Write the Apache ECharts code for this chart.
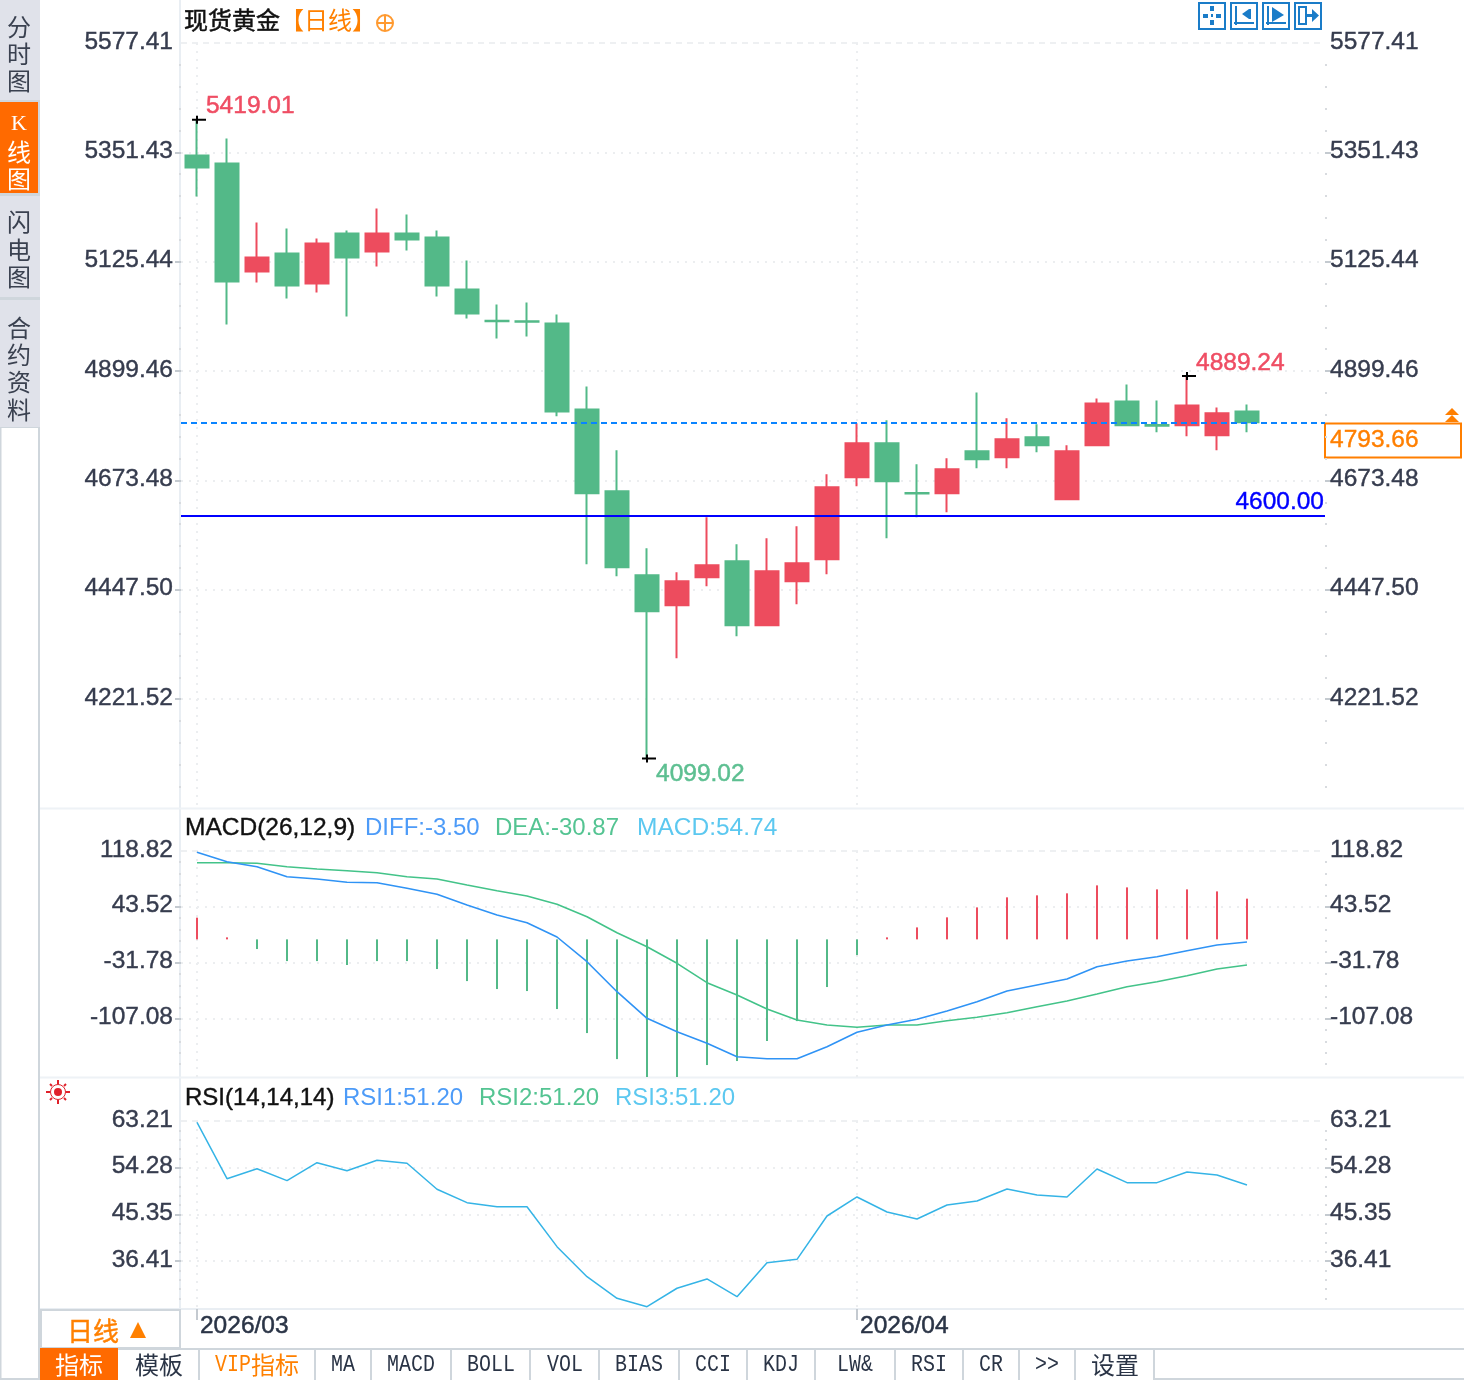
<!DOCTYPE html>
<html>
<head>
<meta charset="utf-8">
<title>现货黄金 日线</title>
<script src="https://cdn.jsdelivr.net/npm/echarts@6/dist/echarts.min.js"></script>
<style>
html, body { margin: 0; padding: 0; background: #fff; }
#kline { width: 1464px; height: 1380px; }
</style>
</head>
<body>
<div id="kline"></div>
<script>
// 日K
var opens  = [5344.77,5328.25,5105.24,5142.42,5080.47,5183.72,5146.54,5183.72,5175.46,5068.09,5003.5,5002.5,4997.88,4820.31,4651.00,4477.55,4415.60,4473.42,4506.46,4374.31,4465.16,4510.58,4679.90,4750.11,4647.4,4646.86,4733.59,4721.19,4762.50,4634.47,4745.97,4836.83,4788.00,4787.27,4766.62,4816.18];
var closes = [5319.98,5084.60,5134.16,5076.34,5163.07,5134.15,5183.72,5171.32,5076.34,5018.52,5002.5,5001.5,4816.17,4646.86,4494.06,4403.21,4465.17,4498.20,4374.31,4485.81,4502.33,4659.26,4750.11,4671.64,4646.4,4696.42,4717.06,4758.37,4745.97,4733.59,4832.70,4787.27,4786.50,4828.57,4812.05,4793.66];
var lows   = [5260.11,4995.81,5082.54,5049.50,5061.89,5012.33,5115.57,5148.61,5053.63,5008.20,4966.91,4971.04,4805.85,4500.26,4475.49,4099.02,4306.17,4454.84,4351.60,4372.25,4417.67,4479.61,4661.32,4553.95,4597.31,4607.63,4698.48,4698.48,4731.52,4632.41,4743.91,4785.21,4772.82,4764.56,4735.65,4772.82];
var highs  = [5419.01,5379.87,5206.42,5194.04,5173.39,5189.91,5235.33,5222.94,5189.91,5127.96,5037.11,5041.24,5016.46,4867.80,4735.65,4533.30,4483.74,4597.31,4541.56,4553.95,4578.73,4686.09,4791.40,4797.59,4706.74,4719.13,4855.41,4801.72,4789.33,4745.97,4843.02,4871.93,4838.89,4889.24,4824.44,4830.63];
var lastPrice = 4793.66;
var alertPrice = 4600.00;

// MACD
var diff = [117.07,104.43,97.71,84.26,81.17,76.73,76.20,68.67,60.60,46.21,32.77,22.41,3.18,-30.03,-70.37,-106.13,-124.15,-139.75,-157.76,-160.45,-160.45,-144.32,-124.96,-115.14,-107.48,-96.32,-83.81,-69.42,-61.36,-53.29,-36.75,-29.09,-23.30,-15.25,-7.57,-3.50];
var dea  = [103.09,103.09,102.28,97.71,94.62,92.33,89.64,84.26,81.17,73.10,65.44,58.31,47.15,30.48,8.97,-9.86,-32.18,-58.26,-74.80,-93.63,-108.42,-115.14,-118.23,-115.14,-115.14,-109.36,-104.79,-98.60,-90.54,-82.87,-73.46,-63.64,-56.92,-48.85,-39.85,-34.46];
var macd = [29.2,2.7,-13.0,-29.2,-29.2,-34.5,-29.2,-29.2,-39.9,-56.1,-66.8,-69.5,-93.7,-126,-161,-190,-190,-169,-163.6,-136.7,-109.9,-64.1,-21.1,2.7,16.1,29.6,43.0,56.5,59.2,61.9,72.6,69.9,67.2,67.2,64.5,54.74];

// RSI
var rsi = [62.96,52.17,54.08,51.79,55.23,53.70,55.69,55.12,50.14,47.58,46.81,46.81,39.16,33.42,29.28,27.67,31.20,32.98,29.59,36.09,36.74,45.03,48.67,45.80,44.46,47.13,47.90,50.20,49.05,48.67,54.03,51.41,51.41,53.44,52.88,50.96];

// 坐标轴刻度
var priceTicks = [5577.41,5351.43,5125.44,4899.46,4673.48,4447.50,4221.52];
var macdTicks = [118.82,43.52,-31.78,-107.08];
var rsiTicks = [63.21,54.28,45.35,36.41];
var dateTickIdx = [0,22];
var dateTickText = ['2026/03','2026/04'];

// 界面文字
var sideTabs = [['分','时','图'],['K','线','图'],['闪','电','图'],['合','约','资','料']];
var bottomTabs = ['指标','模板','VIP指标','MA','MACD','BOLL','VOL','BIAS','CCI','KDJ','LW&','RSI','CR','>>','设置'];

var RED = '#ed4c5e', GREEN = '#53b988', LABEL = '#363c4e', DOT = '#eceef0';
var NUM = '"Liberation Sans", Arial, sans-serif';
var CJK = '"Noto Sans CJK SC", sans-serif';
var MONO = '"Liberation Mono", monospace';

function rect(x, y, w, h, fill) {
    return {type: 'rect', silent: true, shape: {x: x, y: y, width: w, height: h}, style: {fill: fill}};
}
function box(x, y, w, h, stroke, lw) {
    return {type: 'rect', silent: true, shape: {x: x, y: y, width: w, height: h}, style: {fill: 'none', stroke: stroke, lineWidth: lw}};
}
function line(x1, y1, x2, y2, stroke, lw) {
    return {type: 'line', silent: true, shape: {x1: x1, y1: y1, x2: x2, y2: y2}, style: {stroke: stroke, lineWidth: lw}};
}
function poly(pts, fill) {
    return {type: 'polygon', silent: true, shape: {points: pts}, style: {fill: fill}};
}
function txt(x, y, s, fill, font, align, heavy) {
    var st = {text: s, fill: fill, font: font, textAlign: align || 'left', textVerticalAlign: 'middle'};
    if (heavy) { st.stroke = fill; st.lineWidth = heavy; }
    return {type: 'text', silent: true, x: x, y: y, style: st};
}

// 每个窗格左右两条刻度轴，再加小刻度和顶部虚线
function paneAxes(grid, ticks, min, max) {
    var step = (ticks[0] - ticks[1]) / 5, minors = [], v;
    for (v = ticks[0] - step; v > min; v -= step) {
        if (Math.abs((ticks[0] - v) / step % 5) > 0.5 && Math.abs((ticks[0] - v) / step % 5) < 4.5) minors.push(v);
    }
    function base(pos) {
        return {
            type: 'value', gridIndex: grid, position: pos, min: min, max: max, scale: true,
            axisLine: {show: false, onZero: false}, splitLine: {show: false}, axisLabel: {show: false}, axisTick: {show: false}
        };
    }
    var left = base('left'), right = base('right');
    [left, right].forEach(function (a, i) {
        a.axisLabel = {
            show: true, customValues: ticks, color: LABEL, fontFamily: NUM, fontSize: 24.5,
            textBorderColor: LABEL, textBorderWidth: 0.4,
            margin: i ? 5 : 8, verticalAlign: 'bottom', lineHeight: 2.5,
            formatter: function (val) { return val.toFixed(2); }
        };
        a.axisTick = {show: true, customValues: ticks.slice(1), length: 6, lineStyle: {color: '#c4cad0', width: 2}};
    });
    left.splitLine = {show: true, lineStyle: {color: DOT, type: [2, 6], width: 2}};
    var minorL = base('left'), minorR = base('right');
    [minorL, minorR].forEach(function (a) {
        a.axisTick = {show: true, customValues: minors, length: 2, lineStyle: {color: '#d8dbdf', width: 2}};
    });
    var top = base('left');
    top.axisTick = {show: false, customValues: [ticks[0]]};
    top.splitLine = {show: true, lineStyle: {color: '#eef0f2', type: [6, 5], width: 2}};
    return [left, right, minorL, minorR, top];
}

function dateAxis(grid, showText) {
    return {
        type: 'value', gridIndex: grid, min: -0.5333, max: 37.6, position: 'bottom',
        axisLine: {show: false, onZero: false},
        axisTick: {show: showText, customValues: dateTickIdx, length: 11, lineStyle: {color: '#c4cad0', width: 2}},
        splitLine: {show: true, lineStyle: {color: DOT, type: [2, 6], width: 2}},
        axisLabel: {
            show: showText, customValues: dateTickIdx, color: '#2a3446', fontFamily: NUM, fontSize: 24.5,
            textBorderColor: '#2a3446', textBorderWidth: 0.5,
            align: 'left', margin: 5, padding: [0, 0, 0, 3],
            formatter: function (val) { return dateTickText[dateTickIdx.indexOf(val)]; }
        }
    };
}

function withIndex(arr) {
    return arr.map(function (v, i) { return [i, v]; });
}

// 图表以外的界面部分
function chrome() {
    var g = [], i, j;
    var sideTop = [0, 102, 196, 300], sideH = [100, 91, 101, 127];
    var sideY = [[27, 54, 81], [124, 152, 179], [222, 250, 277], [328, 355, 382, 410]];
    g.push(rect(0, 0, 40, 428, '#cfd6dc'));
    for (i = 0; i < sideTabs.length; i++) {
        g.push(rect(0, sideTop[i], i == 1 ? 38 : 40, sideH[i], i == 1 ? '#ff6a00' : '#e0e2ea'));
        for (j = 0; j < sideTabs[i].length; j++) {
            g.push(txt(19, sideY[i][j], sideTabs[i][j], i == 1 ? '#fff' : '#3a4150',
                (sideTabs[i][j] == 'K' ? '22px "Liberation Serif", serif' : '24px ' + CJK), 'center'));
        }
    }
    g.push(rect(0, 428, 1.5, 950, '#cfd6dc'), rect(38, 428, 2, 952, '#cfd6dc'), rect(0, 1378, 40, 2, '#cfd6dc'));

    // 面板分隔线
    g.push(line(180, 0, 180, 1309, '#e9eef3', 2));
    g.push(line(40, 808.5, 1464, 808.5, '#eef2f6', 2), line(40, 1077.5, 1464, 1077.5, '#eef2f6', 2), line(40, 1309, 1464, 1309, '#e9eef3', 2));

    // 标题
    g.push(txt(184, 20, '现货黄金', '#111', '24px ' + CJK, 'left', 0.5));
    g.push(txt(280, 20, '【日线】', '#ff8000', '24px ' + CJK));
    g.push({type: 'circle', silent: true, shape: {cx: 385, cy: 23, r: 8}, style: {fill: 'none', stroke: '#ff9a30', lineWidth: 2}});
    g.push(line(377, 23, 393, 23, '#ff9a30', 2), line(385, 15, 385, 31, '#ff9a30', 2));

    // 右上角按钮
    var bx = [1199, 1231, 1263, 1295], BLUE = '#1a7cc8';
    bx.forEach(function (x) { g.push(box(x, 3, 26, 26, BLUE, 2)); });
    g.push(rect(1210, 6, 4, 5, BLUE), rect(1210, 20, 4, 5, BLUE), rect(1203, 14, 5, 4, BLUE), rect(1216, 14, 5, 4, BLUE), rect(1211, 14, 2, 3, BLUE));
    g.push(line(1236, 6, 1236, 25, BLUE, 2), line(1234, 23, 1254, 23, BLUE, 2), line(1250, 9, 1250, 19, BLUE, 2), poly([[1242, 14], [1249, 9], [1249, 19]], BLUE));
    g.push(line(1268, 6, 1268, 25, BLUE, 2), line(1266, 23, 1286, 23, BLUE, 2), poly([[1272, 7], [1284, 15], [1272, 22]], BLUE));
    g.push(box(1299, 7, 7, 17, BLUE, 2), line(1306, 15.5, 1314, 15.5, BLUE, 3), poly([[1312, 9], [1319, 15.5], [1312, 22]], BLUE));

    // 最新价
    g.push(box(1325, 423.5, 136, 34, '#ff7f00', 2));
    g.push(txt(1330, 440, '4793.66', '#ff7f00', '24.5px ' + NUM, 'left', 0.4));
    g.push(poly([[1452, 408], [1459, 415], [1445, 415]], '#ff7f00'), poly([[1452, 415], [1459, 422], [1445, 422]], '#ff7f00'));

    // 副图标题
    g.push(txt(185, 828, 'MACD(26,12,9)', '#111', '24.5px ' + NUM, 'left', 0.4));
    g.push(txt(365, 828, 'DIFF:-3.50', '#4d9bf8', '24px ' + NUM));
    g.push(txt(495, 828, 'DEA:-30.87', '#54c492', '24px ' + NUM));
    g.push(txt(637, 828, 'MACD:54.74', '#5cc8f0', '24.5px ' + NUM));
    g.push(txt(185, 1098, 'RSI(14,14,14)', '#111', '24px ' + NUM, 'left', 0.4));
    g.push(txt(343, 1098, 'RSI1:51.20', '#4d9bf8', '24px ' + NUM));
    g.push(txt(479, 1098, 'RSI2:51.20', '#54c492', '24px ' + NUM));
    g.push(txt(615, 1098, 'RSI3:51.20', '#5cc8f0', '24px ' + NUM));

    // 红色小太阳
    g.push({type: 'circle', silent: true, shape: {cx: 58, cy: 1092, r: 4}, style: {fill: '#e0202a'}});
    g.push({type: 'circle', silent: true, shape: {cx: 58, cy: 1092, r: 7.5}, style: {fill: 'none', stroke: '#e0202a', lineWidth: 1}});
    g.push(line(46, 1092, 50, 1092, '#e0202a', 2), line(66, 1092, 70, 1092, '#e0202a', 2), line(58, 1080, 58, 1084, '#e0202a', 2), line(58, 1100, 58, 1104, '#e0202a', 2));
    g.push(line(50, 1084, 52, 1086, '#e0202a', 2), line(64, 1098, 66, 1100, '#e0202a', 2), line(66, 1084, 64, 1086, '#e0202a', 2), line(52, 1098, 50, 1100, '#e0202a', 2));

    // 周期按钮和指标栏
    g.push(box(41, 1310, 139, 38, '#cfd6dc', 2));
    g.push(txt(93, 1331, '日线', '#ff8000', '26px ' + CJK, 'center', 0.4));
    g.push(poly([[138, 1322], [146, 1338], [130, 1338]], '#ff8000'));
    g.push(rect(40, 1348, 1424, 2, '#cfd6dc'));
    var edges = [40, 118, 199, 315, 371, 451, 530, 599, 679, 747, 815, 895, 963, 1019, 1075, 1154];
    var centers = [79, 159, 257, 343, 411, 491, 565, 639, 713, 781, 855, 929, 991, 1047, 1115];
    g.push(rect(40, 1348, 78, 32, '#ff6a00'));
    bottomTabs.forEach(function (s, k) {
        var fill = k == 0 ? '#fff' : (k == 2 ? '#ff8000' : '#2a3446');
        var el;
        if (k == 2) {
            el = txt(215, 1365, 'VIP', fill, '24px ' + MONO);
            el.scaleX = 0.83;
            g.push(el, txt(251, 1365, '指标', fill, '24px ' + CJK));
        } else if (/^[A-Z&>]+$/.test(s)) {
            el = txt(centers[k], 1365, s, fill, '24px ' + MONO, 'center');
            el.scaleX = 0.83;
            g.push(el);
        } else {
            g.push(txt(centers[k], 1365, s, fill, '24px ' + CJK, 'center'));
        }
        if (k > 0) g.push(rect(edges[k + 1] - 1, 1350, 2, 30, '#cfd6dc'));
    });
    g.push(rect(1154, 1378, 310, 2, '#cfd6dc'));
    return g;
}

var MAIN_MIN = 3995.54, MACD_MIN = -185.07, RSI_MIN = 27.23;
var yMain = paneAxes(0, priceTicks, MAIN_MIN, priceTicks[0]);
var yMacd = paneAxes(1, macdTicks, MACD_MIN, macdTicks[0]);
var yRsi = paneAxes(2, rsiTicks, RSI_MIN, rsiTicks[0]);

var candles = opens.map(function (o, i) { return [i, o, closes[i], lows[i], highs[i]]; });
var CROSS = 'path://M0 3H14V5H0Z M4 0H6V8H4Z';

var chart = echarts.init(document.getElementById('kline'));
chart.setOption({
    animation: false,
    backgroundColor: '#fff',
    graphic: {elements: chrome()},
    grid: [
        {left: 181, width: 1144, top: 43, height: 765.5},
        {left: 181, width: 1144, top: 851, height: 226},
        {left: 181, width: 1144, top: 1121, height: 188}
    ],
    xAxis: [dateAxis(0, false), dateAxis(1, false), dateAxis(2, true)],
    yAxis: yMain.concat(yMacd, yRsi),
    series: [
        {
            type: 'candlestick', xAxisIndex: 0, yAxisIndex: 0, barWidth: 24, data: candles,
            itemStyle: {color: RED, color0: GREEN, borderColor: RED, borderColor0: GREEN, borderWidth: 2},
            markLine: {
                silent: true, symbol: 'none', animation: false,
                data: [
                    {yAxis: lastPrice, lineStyle: {color: '#0a84ff', type: [6, 4], width: 2}, label: {show: false}},
                    {yAxis: alertPrice, lineStyle: {color: '#0000ff', type: 'solid', width: 2},
                        label: {show: true, position: 'insideEndTop', formatter: alertPrice.toFixed(2), color: '#0000ff', fontFamily: NUM, fontSize: 24.5,
                            textBorderColor: '#0000ff', textBorderWidth: 0.4, distance: 1}}
                ]
            },
            markPoint: {
                silent: true, animation: false, symbol: CROSS, symbolSize: [14, 8], symbolOffset: [2, 0],
                itemStyle: {color: '#000'},
                label: {position: 'right', distance: 0, fontFamily: NUM, fontSize: 24.5},
                data: [
                    {coord: [0, highs[0]], label: {formatter: highs[0].toFixed(2), color: '#ef4d63', textBorderColor: '#ef4d63', textBorderWidth: 0.5, offset: [0, -13]}},
                    {coord: [15, lows[15]], label: {formatter: lows[15].toFixed(2), color: '#5dbf91', textBorderColor: '#5dbf91', textBorderWidth: 0.5, offset: [0, 16]}},
                    {coord: [33, highs[33]], label: {formatter: highs[33].toFixed(2), color: '#ef4d63', textBorderColor: '#ef4d63', textBorderWidth: 0.5, offset: [0, -13]}}
                ]
            }
        },
        {
            type: 'bar', xAxisIndex: 1, yAxisIndex: 5, barWidth: 2, data: withIndex(macd),
            itemStyle: {color: function (p) { return p.value[1] >= 0 ? RED : GREEN; }}
        },
        {type: 'line', xAxisIndex: 1, yAxisIndex: 5, data: withIndex(dea), showSymbol: false, lineStyle: {color: '#43c389', width: 1.6}},
        {type: 'line', xAxisIndex: 1, yAxisIndex: 5, data: withIndex(diff), showSymbol: false, lineStyle: {color: '#2f93f5', width: 1.6}},
        {type: 'line', xAxisIndex: 2, yAxisIndex: 10, data: withIndex(rsi), showSymbol: false, lineStyle: {color: '#35b4e6', width: 1.5}}
    ]
});
</script>
</body>
</html>
